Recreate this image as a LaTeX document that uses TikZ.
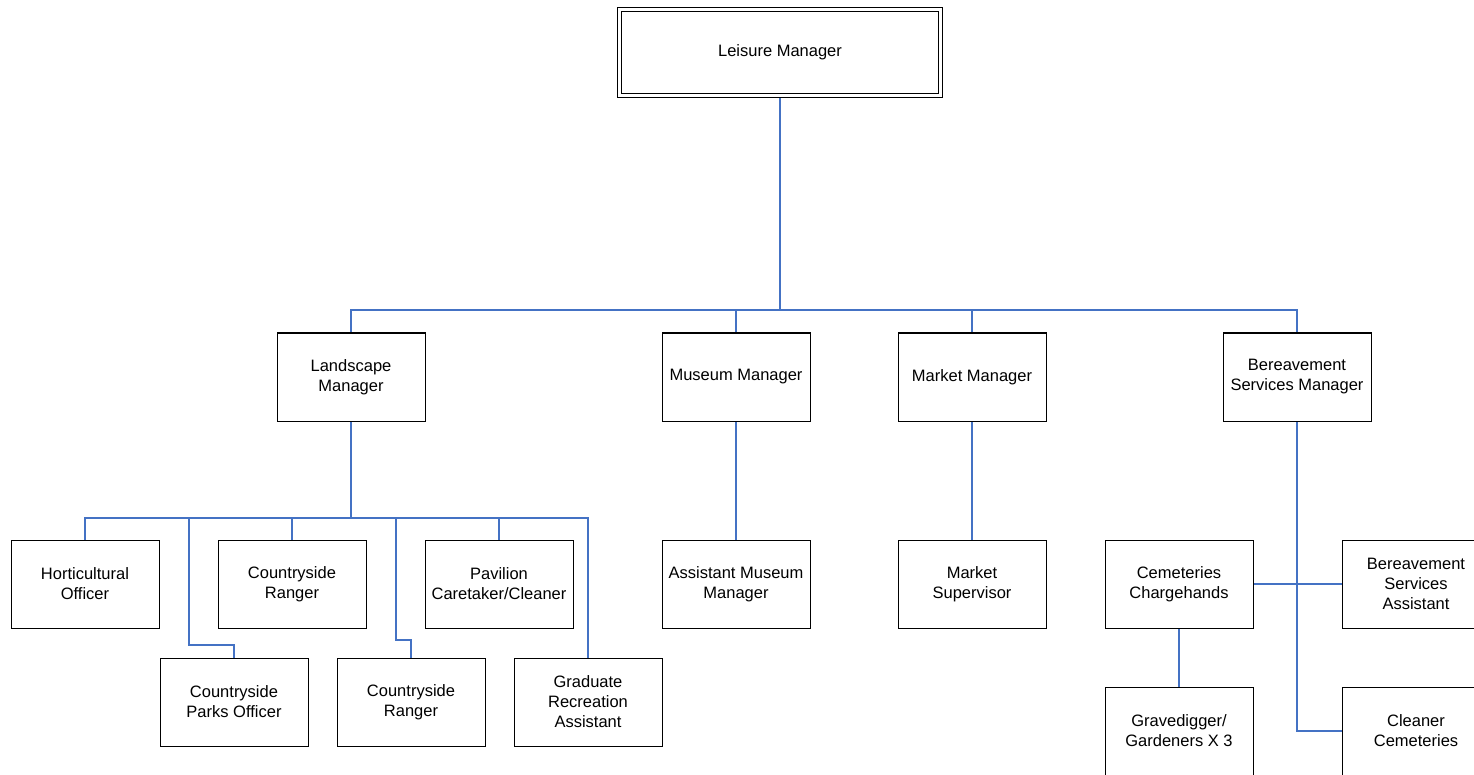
\documentclass[tikz,border=0pt]{standalone}
\usepackage{fontspec}
\setmainfont{Liberation Sans}
\usetikzlibrary{backgrounds}
\definecolor{linkblue}{HTML}{4472C4}
\begin{document}
\begin{tikzpicture}
[x=1pt, y=-1pt, font=\fontsize{16.5}{20}\selectfont,
box/.style = {draw, line width=1pt, fill=white, minimum width=148, minimum height=88, inner sep=0pt, align=center},
link/.style = {draw=linkblue, line width=1.2pt},]

\useasboundingbox (0,0) rectangle (1474,775);
\clip (0,0) rectangle (1474,775);

% top
\node (leisure) at (780,52.5)[box, double, double distance=3pt, minimum width=321, minimum height=86] {Leisure Manager};

% managers
\node (landscape) at (351,377)[box] {Landscape\\Manager};
\node (museum) at (736,377)[box] {Museum Manager};
\node (market) at (972,377)[box] {Market Manager};
\node (bereave) at (1297,377)[box] {Bereavement\\Services Manager};

% landscape staff
\node (horti) at (85,584)[box] {Horticultural\\Officer};
\node (rangerA) at (292,584)[box] {Countryside\\Ranger};
\node (pavilion) at (499,584)[box] {Pavilion\\Caretaker/Cleaner};
\node (parks) at (234,702)[box] {Countryside\\Parks Officer};
\node (rangerB) at (411,702)[box] {Countryside\\Ranger};
\node (graduate) at (588,702)[box] {Graduate\\Recreation\\Assistant};

% museum and market staff
\node (asstmuseum) at (736,584)[box] {Assistant Museum\\Manager};
\node (supervisor) at (972,584)[box] {Market\\Supervisor};

% bereavement staff
\node (cemetery) at (1179,584)[box] {Cemeteries\\Chargehands};
\node (bsassist) at (1416,584)[box] {Bereavement\\Services\\Assistant};
\node (digger) at (1179,731)[box] {Gravedigger/\\Gardeners X 3};
\node (cleaner) at (1416,731)[box] {Cleaner\\Cemeteries};

\coordinate (bus) at (780,310);
\coordinate (lbus) at (351,518);
\coordinate (pk) at (189,645);
\coordinate (rg) at (396,640);

\begin{pgfonlayer}{background}
\draw[link] (leisure.south) -- (bus) -| (landscape.north);
\draw[link] (bus) -| (museum.north);
\draw[link] (bus) -| (market.north);
\draw[link] (bus) -| (bereave.north);

\draw[link] (landscape.south) -- (lbus) -| (horti.north);
\draw[link] (lbus) -| (rangerA.north);
\draw[link] (lbus) -| (pavilion.north);
\draw[link] (lbus) -| (graduate.north);
\draw[link] (lbus) -| (pk) -| (parks.north);
\draw[link] (lbus) -| (rg) -| (rangerB.north);

\draw[link] (museum.south) -- (asstmuseum.north);
\draw[link] (market.south) -- (supervisor.north);

\draw[link] (bereave.south) |- (cleaner.west);
\draw[link] (cemetery.east) -- (bsassist.west);
\draw[link] (cemetery.south) -- (digger.north);
\end{pgfonlayer}
\end{tikzpicture}
\end{document}
